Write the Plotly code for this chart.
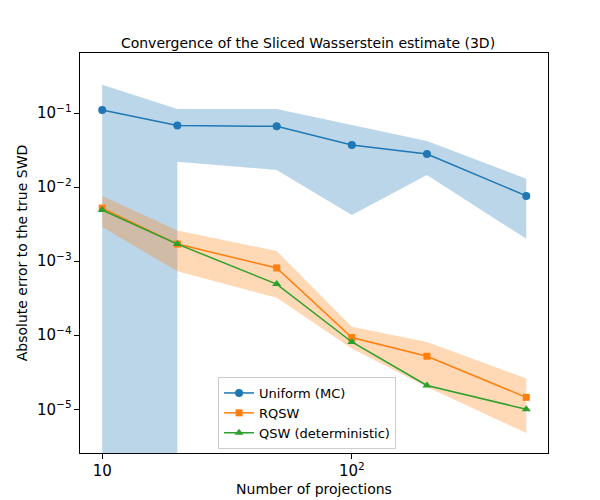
import plotly.graph_objects as go

n_proj = [10, 20, 50, 100, 200, 500]

mc_mean = [0.11, 0.068, 0.066, 0.037, 0.028, 0.0076]
mc_hi = [0.24, 0.113, 0.113, 0.069, 0.042, 0.013]
# lower band is non-positive at 10 and 20 (clipped on the log axis), then jumps up at 20
mc_lo_x = [10, 20, 20, 50, 100, 200, 500]
mc_lo = [1e-12, 1e-12, 0.022, 0.017, 0.0042, 0.0145, 0.0020]

rq_mean = [0.0052, 0.0017, 0.00081, 9.3e-5, 5.2e-5, 1.45e-5]
rq_hi = [0.0076, 0.0026, 0.00137, 1.3e-4, 8.1e-5, 2.6e-5]
rq_lo = [0.0029, 0.00073, 3.2e-4, 6.6e-5, 2.0e-5, 4.8e-6]

qsw = [0.0049, 0.0017, 0.00049, 8.1e-5, 2.1e-5, 1.0e-5]

blue = "#1f77b4"
orange = "#ff7f0e"
green = "#2ca02c"

fig = go.Figure()


def band(lo_x, lo, hi, color):
    fig.add_trace(go.Scatter(x=n_proj, y=hi, mode="lines", line=dict(width=0),
                             showlegend=False, hoverinfo="skip"))
    fig.add_trace(go.Scatter(x=lo_x, y=lo, mode="lines", line=dict(width=0),
                             fill="tonexty", fillcolor=color, showlegend=False,
                             hoverinfo="skip"))


band(mc_lo_x, mc_lo, mc_hi, "rgba(31,119,180,0.3)")
band(n_proj, rq_lo, rq_hi, "rgba(255,127,14,0.3)")

fig.add_trace(go.Scatter(x=n_proj, y=mc_mean, name="Uniform (MC)", mode="lines+markers",
                         line=dict(color=blue, width=1.5), marker=dict(symbol="circle", size=8)))
fig.add_trace(go.Scatter(x=n_proj, y=rq_mean, name="RQSW", mode="lines+markers",
                         line=dict(color=orange, width=1.5), marker=dict(symbol="square", size=7)))
fig.add_trace(go.Scatter(x=n_proj, y=qsw, name="QSW (deterministic)", mode="lines+markers",
                         line=dict(color=green, width=1.5), marker=dict(symbol="triangle-up", size=8)))

axis_common = dict(type="log", showgrid=False, showline=True, mirror=True, linecolor="black",
                   ticks="outside", tickcolor="black", zeroline=False, exponentformat="power")

fig.update_layout(
    width=600, height=500,
    margin=dict(l=72, r=60, t=45, b=55),
    plot_bgcolor="white", paper_bgcolor="white",
    font=dict(family="DejaVu Sans", size=12, color="black"),
    title=dict(text="Convergence of the Sliced Wasserstein estimate (3D)", x=0.5, y=0.94,
               xanchor="center", font=dict(size=14)),
    xaxis=dict(axis_common, range=[0.911, 2.786], dtick=1,
               title=dict(text="Number of projections", standoff=4)),
    yaxis=dict(axis_common, range=[-5.59, -0.19], dtick=1,
               title=dict(text="Absolute error to the true SWD", standoff=6)),
    legend=dict(x=0.295, y=0.19, xanchor="left", yanchor="top", bordercolor="#cccccc",
                borderwidth=1, bgcolor="rgba(255,255,255,0.8)", traceorder="normal",
                font=dict(size=13)),
)

fig.write_html("out.html")
